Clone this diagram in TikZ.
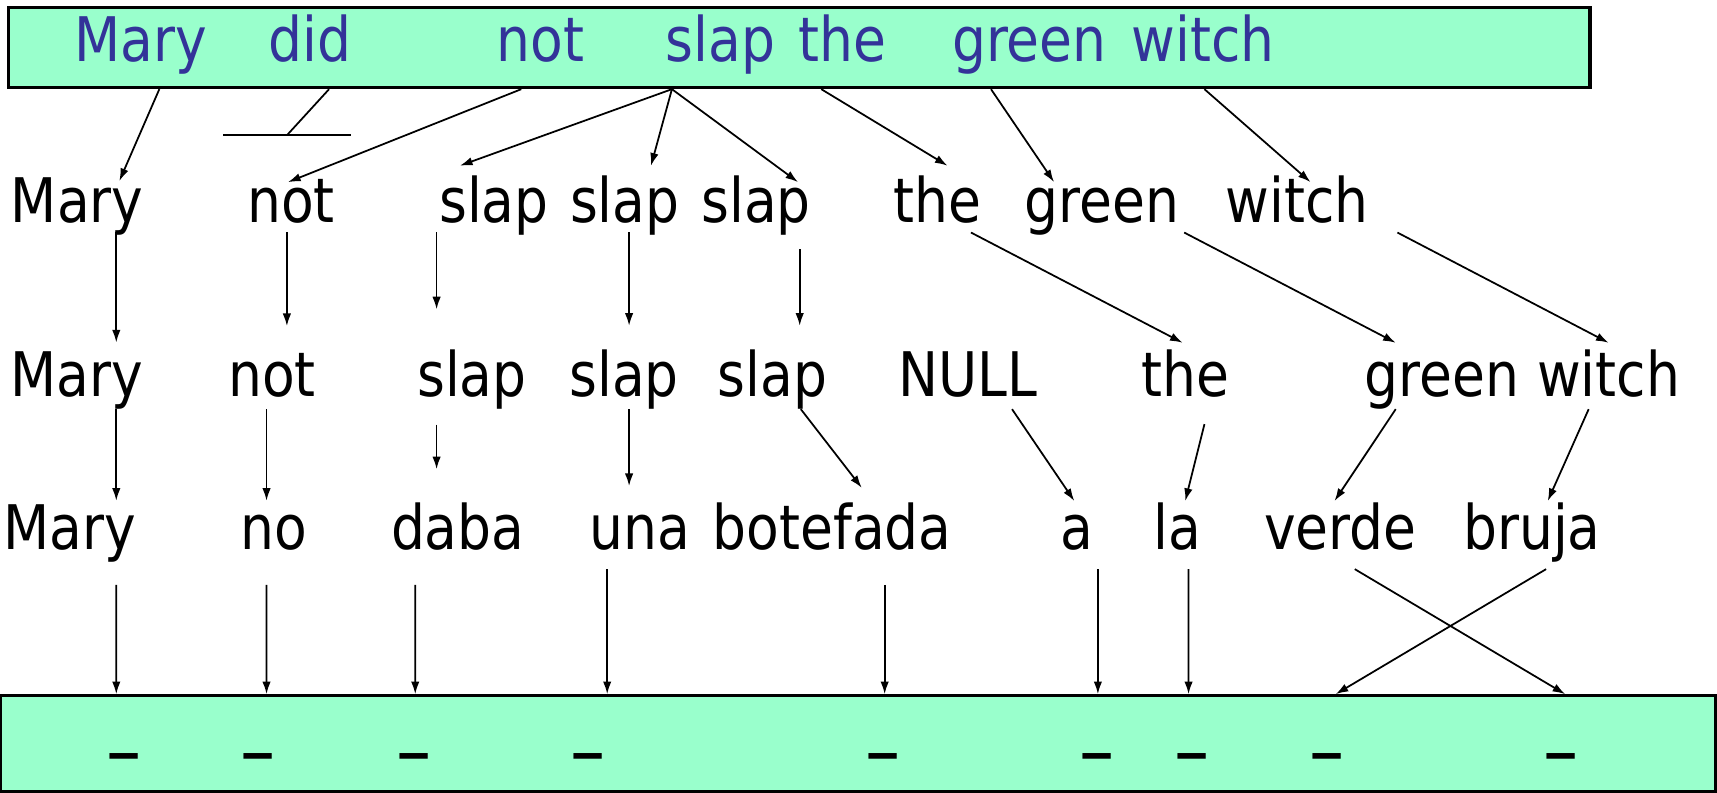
\documentclass[tikz,border=0pt]{standalone}
\usepackage{fontspec}
\setmainfont{DejaVu Sans}[FakeStretch=0.87]
\usepackage{tikz}
\usetikzlibrary{arrows.meta}
\usetikzlibrary{calc}
\usetikzlibrary{fit}
\definecolor{mint}{RGB}{153,255,204}
\definecolor{navy}{RGB}{51,51,153}

\begin{document}
\begin{tikzpicture}[x=0.01095cm, y=-0.01095cm,
	font=\fontsize{17.5}{21}\selectfont,
	box/.style={draw, line width=0.9pt, fill=mint, inner sep=0pt},
	word/.style={inner sep=0pt, anchor=base, text height=13.1pt, text depth=4.4pt},
	eword/.style={word, text=navy},
	blank/.style={inner sep=0pt, anchor=base, font=\fontsize{23}{26}\selectfont},
	link/.style={line width=0.5pt, -{Latex[length=3.6pt,width=2.4pt]}}]
	\useasboundingbox (0,0) rectangle (1568,724);

	\node[box, fit={(8,7) (1452,80)}] (eng) {};
	\node[box, fit={(0.5,635.4) (1566.6,723)}] (spa) {};

	\node[eword] (tMary) at (128.5,56.5) {Mary};
	\node[eword] (tDid) at (283,56.5) {did};
	\node[eword] (tNot) at (493.4,56.5) {not};
	\node[eword] (tSlap) at (658,56.5) {slap};
	\node[eword] (tThe) at (769,56.5) {the};
	\node[eword] (tGreen) at (940,56.5) {green};
	\node[eword] (tWitch) at (1098.6,56.5) {witch};

	\node[word] (aMary) at (70.5,203) {Mary};
	\node[word] (aNot) at (265.7,203) {not};
	\node[word] (aSlap1) at (451,203) {slap};
	\node[word] (aSlap2) at (570.5,203) {slap};
	\node[word] (aSlap3) at (690.5,203) {slap};
	\node[word] (aThe) at (855.7,203) {the};
	\node[word] (aGreen) at (1006.3,203) {green};
	\node[word] (aWitch) at (1184.8,203) {witch};

	\node[word] (bMary) at (70,362.5) {Mary};
	\node[word] (bNot) at (248.5,362.5) {not};
	\node[word] (bSlap1) at (431,362.5) {slap};
	\node[word] (bSlap2) at (570,362.5) {slap};
	\node[word] (bSlap3) at (705.5,362.5) {slap};
	\node[word] (bNull) at (884,362.5) {NULL};
	\node[word] (bThe) at (1082.5,362.5) {the};
	\node[word] (bGreen) at (1317,362.5) {green};
	\node[word] (bWitch) at (1469,362.5) {witch};

	\node[word] (cMary) at (64,502) {Mary};
	\node[word] (cNo) at (250,502) {no};
	\node[word] (cDaba) at (418,502) {daba};
	\node[word] (cUna) at (584.5,502) {una};
	\node[word] (cBotefada) at (760,502) {botefada};
	\node[word] (cA) at (983,502) {a};
	\node[word] (cLa) at (1075,502) {la};
	\node[word] (cVerde) at (1224,502) {verde};
	\node[word] (cBruja) at (1399,502) {bruja};

	\node[blank] (d1) at (113,711) {–};
	\node[blank] (d2) at (236,711) {–};
	\node[blank] (d3) at (378,711) {–};
	\node[blank] (d4) at (536.7,711) {–};
	\node[blank] (d5) at (806.6,711) {–};
	\node[blank] (d6) at (1001.8,711) {–};
	\node[blank] (d7) at (1088.7,711) {–};
	\node[blank] (d8) at (1212,711) {–};
	\node[blank] (d9) at (1425.6,711) {–};

	% english sentence down to the first row
	\draw[link] ($(tMary |- eng.south)+(17,0)$) -- ($(aMary.north)+(38.5,5)$);
	\coordinate (tDidEnd) at (262.5,123);
	\draw[line width=0.5pt] ($(tDid |- eng.south)+(17.5,0)$) -- (tDidEnd);
	\draw[line width=0.5pt] ($(tDidEnd)+(-58.5,0)$) -- ($(tDidEnd)+(58,0)$);
	\draw[link] ($(tNot |- eng.south)+(-17.4,0)$) -- ($(aNot.north)+(-2.7,6)$);
	\draw[link] ($(tSlap |- eng.south)+(-44.4,0)$) -- ($(aSlap1.north)+(-31,-9)$);
	\draw[link] ($(tSlap |- eng.south)+(-44.4,0)$) -- ($(aSlap2.north)+(24,-9)$);
	\draw[link] ($(tSlap |- eng.south)+(-44.4,0)$) -- ($(aSlap3.north)+(38.3,6)$);
	\draw[link] ($(tThe |- eng.south)+(-19,0)$) -- ($(aThe.north)+(9.6,-9)$);
	\draw[link] ($(tGreen |- eng.south)+(-35,0)$) -- ($(aGreen.north)+(-43.7,6)$);
	\draw[link] ($(tWitch |- eng.south)+(1.3,0)$) -- ($(aWitch.north)+(12,6)$);

	% first row to second row
	\draw[link] ($(aMary.south)+(35.7,-5.5)$) -- ($(bMary.north)+(36.2,-7)$);
	\draw[link] ($(aNot.south)+(-3.7,-5.5)$) -- ($(aNot.south |- bNot.north)+(-3.7,-22)$);
	\draw[link] ($(aSlap1.south)+(-52.3,-5.5)$) -- ($(aSlap1.south |- bSlap1.north)+(-52.3,-37.3)$);
	\draw[link] ($(aSlap2.south)+(4,-5.5)$) -- ($(aSlap2.south |- bSlap2.north)+(4,-22.3)$);
	\draw[link] ($(aSlap3.south)+(39.8,9.7)$) -- ($(aSlap3.south |- bSlap3.north)+(39.8,-22.3)$);
	\draw[link] ($(aThe.south)+(31,-5.4)$) -- ($(bThe.north)+(-2.5,-6.8)$);
	\draw[link] ($(aGreen.south)+(75.1,-5.4)$) -- ($(bGreen.north)+(-42.4,-6.8)$);
	\draw[link] ($(aWitch.south)+(91.3,-5.4)$) -- ($(bWitch.north)+(0,-6.8)$);

	% second row to spanish words
	\draw[link] ($(bMary.south)+(36.2,-3.6)$) -- ($(bMary.south |- cMary.north)+(36.2,-2)$);
	\draw[link] ($(bNot.south)+(-5.1,-3.6)$) -- ($(bNot.south |- cNo.north)+(-5.1,-2)$);
	\draw[link] ($(bSlap1.south)+(-32.3,10.5)$) -- ($(bSlap1.south |- cDaba.north)+(-32.3,-30.8)$);
	\draw[link] ($(bSlap2.south)+(4.5,-3.6)$) -- ($(bSlap2.south |- cUna.north)+(4.5,-15.4)$);
	\draw[link] ($(bSlap3.south)+(25.8,-3.6)$) -- ($(cBotefada.north)+(27,-13.8)$);
	\draw[link] ($(bNull.south)+(40.2,-3.6)$) -- ($(cA.north)+(-1.9,-1.8)$);
	\draw[link] ($(bThe.south)+(17.4,10.1)$) -- ($(cLa.north)+(7.4,-1.8)$);
	\draw[link] ($(bGreen.south)+(-42.4,-3.6)$) -- ($(cVerde.north)+(-5.3,-1.8)$);
	\draw[link] ($(bWitch.south)+(-18.2,-3.6)$) -- ($(cBruja.north)+(14.4,-1.8)$);

	% spanish words to the blanks
	\draw[link] ($(cMary.south)+(42.2,17.4)$) -- ($(d1 |- spa.north)+(-6.8,0)$);
	\draw[link] ($(cNo.south)+(-6.6,17.4)$) -- ($(d2 |- spa.north)+(7.4,0)$);
	\draw[link] ($(cDaba.south)+(-38.8,17.4)$) -- ($(d3 |- spa.north)+(1.2,0)$);
	\draw[link] ($(cUna.south)+(-30,3)$) -- ($(d4 |- spa.north)+(17.8,0)$);
	\draw[link] ($(cBotefada.south)+(47.9,17.4)$) -- ($(d5 |- spa.north)+(1.3,0)$);
	\draw[link] ($(cA.south)+(19.6,3)$) -- ($(d6 |- spa.north)+(0.8,0)$);
	\draw[link] ($(cLa.south)+(10.4,3)$) -- ($(d7 |- spa.north)+(-3.3,0)$);
	\draw[link] ($(cVerde.south)+(13.2,3)$) -- ($(d9 |- spa.north)+(3.8,0)$);
	\draw[link] ($(cBruja.south)+(12.9,3)$) -- ($(d8 |- spa.north)+(7.7,0)$);
\end{tikzpicture}
\end{document}
